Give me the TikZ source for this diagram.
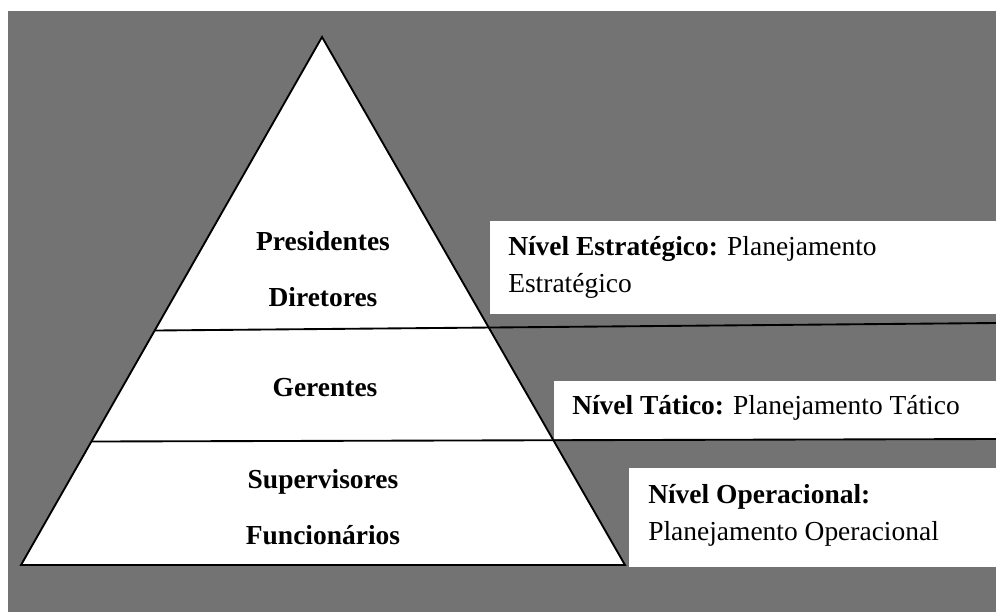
\documentclass[tikz,border=0pt]{standalone}
\usepackage{fontspec}
\setmainfont{Liberation Serif}
\begin{document}
\begin{tikzpicture}[x=0.75pt,y=-0.75pt,
  cargo/.style={anchor=base,inner sep=0pt,font=\fontsize{20.6}{24}\selectfont\bfseries},
  nivel/.style={anchor=base west,inner sep=0pt,font=\fontsize{20.6}{24}\selectfont}]
\definecolor{fundo}{RGB}{115,115,115}
\useasboundingbox (0,0) rectangle (996,612);
\fill[fundo] (8,11) rectangle (996,612);
% piramide
\coordinate (topo) at (322,37);
\coordinate (esq) at (21,565);
\coordinate (dir) at (625,565);
\draw[fill=white,line width=1.4pt,line join=miter] (topo) -- (esq) -- (dir) -- cycle;
% caixas dos niveis
\fill[white] (490,221) rectangle (996,314);
\fill[white] (554,381) rectangle (996,439);
\fill[white] (629,468) rectangle (996,567);
% divisoes
\coordinate (a1) at (155,330.5);
\coordinate (b1) at (996,323);
\coordinate (a2) at (92,441.5);
\coordinate (b2) at (996,439);
\draw[line width=1.4pt] (a1) -- (b1);
\draw[line width=1.4pt] (a2) -- (b2);
% cargos
\node[cargo] (pres) at (323,250) {Presidentes};
\node[cargo] (dire) at (323,306) {Diretores};
\node[cargo] (gere) at (325,396) {Gerentes};
\node[cargo] (supe) at (323,488) {Supervisores};
\node[cargo] (func) at (323,544) {Funcionários};
% niveis
\node[nivel] (est1) at (508,255) {\textbf{Nível Estratégico:} Planejamento};
\node[nivel] (est2) at (508,292) {Estratégico};
\node[nivel] (tat) at (572,414) {\textbf{Nível Tático:} Planejamento Tático};
\node[nivel] (ope1) at (648,503) {\textbf{Nível Operacional:}};
\node[nivel] (ope2) at (648,540) {Planejamento Operacional};
\end{tikzpicture}
\end{document}
